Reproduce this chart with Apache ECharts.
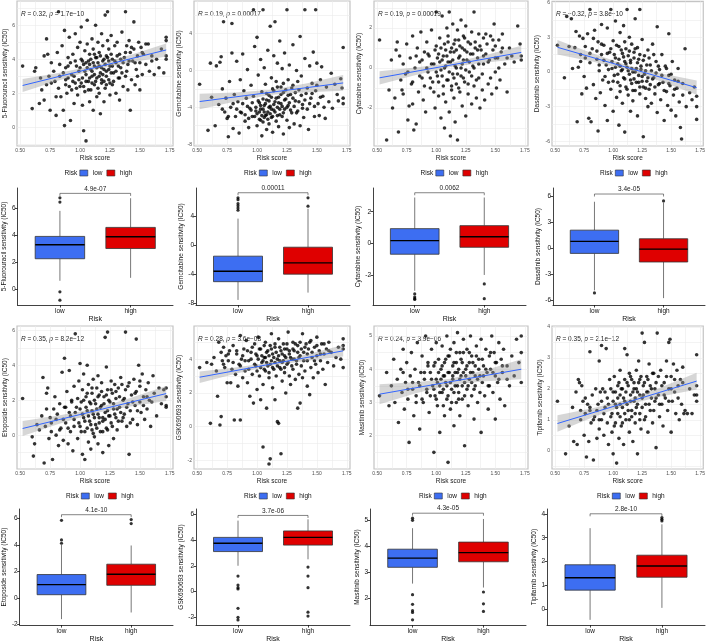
<!DOCTYPE html>
<html>
<head>
<meta charset="utf-8">
<script src="https://cdn.jsdelivr.net/npm/echarts@6/dist/echarts.min.js"></script>
<style>html,body{margin:0;padding:0;background:#fff}#main{width:708px;height:644px}</style>
</head>
<body>
<div id="main"></div>
<script>
var FONT = 'Liberation Sans, Arial, sans-serif';

// ---- data ----
var groups = ['low', 'high'];
var drugs = ['5-Fluorouracil', 'Gemcitabine', 'Cytarabine', 'Dasatinib', 'Etoposide', 'GSK690693', 'Masitinib', 'Tipifarnib'];
var corrR = ['0.32', '0.19', '0.19', '\u22120.32', '0.35', '0.28', '0.24', '0.35'];
var corrP = ['1.7e\u221210', '0.00017', '0.00019', '3.8e\u221210', '8.2e\u221212', '3.6e\u221208', '3.9e\u221206', '2.1e\u221212'];
var boxP = ['4.9e-07', '0.00011', '0.0062', '3.4e-05', '4.1e-10', '3.7e-06', '4.3e-05', '2.8e-10'];

var riskTicks = [0.5, 0.75, 1, 1.25, 1.5, 1.75];
var riskMinor = [0.625, 0.875, 1.125, 1.375, 1.625];

var scatterYMin = [-1.1, -8.2, -3.9, -6.4, -1.94, -2.5, 1.0, -0.59];
var scatterYMax = [7.43, 7.55, 3.35, 6.1, 6.25, 5.96, 5.3, 4.03];
var scatterYTicks = [[0,2,4,6],[-8,-4,0,4],[-2,0,2],[-6,-3,0,3,6],[0,2,4,6],[-2,0,2,4],[2,3,4,5],[0,1,2,3,4]];
var scatterYMinor = [[-1,1,3,5,7],[-6,-2,2,6],[-3,-1,1,3],[-4.5,-1.5,1.5,4.5],[-1,1,3,5],[-1,1,3,5],[1.5,2.5,3.5,4.5],[-0.5,0.5,1.5,2.5,3.5]];

// regression line ends (x = 0.52 and 1.72) and confidence band
var fitX = [0.52, 1.72];
var fitY = [[2.46,4.55],[-3.37,-1.35],[-0.49,0.78],[2.13,-1.36],[0.38,2.38],[2.93,4.49],[3.25,4.0],[0.88,2.25]];
var bandX = [0.52, 0.82, 1.12, 1.42, 1.72];
var bandLow = [
  [2.08,2.76,3.39,3.81,4.17],[-4.22,-3.36,-2.63,-2.35,-2.20],[-0.82,-0.36,0.045,0.27,0.45],[1.51,0.90,0.185,-0.845,-1.98],
  [-0.05,0.64,1.25,1.64,1.95],[2.59,3.13,3.61,3.91,4.15],[2.95,3.27,3.535,3.64,3.70],[0.61,1.07,1.485,1.76,1.98]];
var bandHigh = [
  [2.84,3.20,3.63,4.25,4.93],[-2.52,-2.39,-2.09,-1.38,-0.50],[-0.16,0.02,0.245,0.65,1.11],[2.75,1.62,0.585,-0.135,-0.74],
  [0.81,1.12,1.51,2.12,2.81],[3.27,3.51,3.81,4.29,4.83],[3.55,3.61,3.715,3.98,4.30],[1.15,1.37,1.645,2.06,2.52]];

var fluorouracilPts = [[0.52,3.6],[0.60,1.1],[0.62,3.3],[0.63,3.5],[0.66,1.4],[0.67,2.9],[0.68,2.2],[0.70,4.2],[0.70,1.6],[0.72,5.2],[0.73,4.3],[0.74,3.0],[0.75,1.0],[0.76,2.6],[0.78,3.3],[0.80,1.8],[0.80,0.7],[0.81,4.4],[0.82,6.8],[0.82,2.3],[0.83,3.7],[0.84,1.8],[0.85,4.8],[0.86,1.0],[0.87,0.1],[0.87,5.7],[0.88,2.5],[0.88,3.5],[0.89,2.0],[0.90,4.1],[0.90,2.9],[0.91,5.3],[0.92,0.4],[0.92,3.8],[0.93,2.2],[0.94,4.3],[0.95,1.4],[0.95,3.0],[0.96,5.5],[0.96,2.6],[0.97,3.6],[0.98,4.7],[0.98,1.9],[0.99,3.3],[1.00,5.0],[1.00,2.4],[1.01,4.0],[1.01,5.9],[1.02,2.9],[1.02,1.3],[1.03,3.7],[1.03,-0.2],[1.04,4.5],[1.04,2.1],[1.05,3.1],[1.05,-0.8],[1.06,6.3],[1.06,4.9],[1.07,2.7],[1.07,3.9],[1.08,1.5],[1.08,4.3],[1.09,3.4],[1.09,2.2],[1.10,5.2],[1.10,3.0],[1.11,1.0],[1.11,4.6],[1.12,3.6],[1.12,2.5],[1.13,6.0],[1.13,4.1],[1.14,2.9],[1.14,1.8],[1.15,3.8],[1.15,5.0],[1.16,2.0],[1.16,4.4],[1.17,3.2],[1.17,0.8],[1.18,5.5],[1.18,2.6],[1.19,3.9],[1.19,4.8],[1.20,1.5],[1.20,3.4],[1.21,6.6],[1.21,2.3],[1.22,4.2],[1.22,3.0],[1.23,6.8],[1.23,5.1],[1.24,2.8],[1.24,4.6],[1.25,3.6],[1.25,1.9],[1.26,5.4],[1.27,4.0],[1.27,2.5],[1.28,3.2],[1.29,4.8],[1.30,2.0],[1.30,3.8],[1.31,5.0],[1.32,2.9],[1.33,4.3],[1.33,1.6],[1.34,3.5],[1.35,5.6],[1.36,2.4],[1.37,4.1],[1.38,6.8],[1.38,3.0],[1.39,4.8],[1.40,2.2],[1.40,3.7],[1.41,5.1],[1.42,1.0],[1.42,4.4],[1.43,2.8],[1.44,3.9],[1.45,6.2],[1.45,4.6],[1.46,2.5],[1.47,3.4],[1.48,4.2],[1.49,5.0],[1.50,2.2],[1.50,3.8],[1.51,4.7],[1.52,3.1],[1.53,4.3],[1.55,3.7],[1.57,4.9],[1.58,3.3],[1.60,4.2],[1.62,3.1],[1.64,4.0],[1.66,3.5],[1.68,4.6],[1.70,3.2],[1.72,5.3],[1.72,5.1],[1.72,4.2],[1.72,4.0],
  [0.86,3.2],[0.88,2.8],[0.90,3.6],[0.91,2.4],[0.93,3.1],[0.94,2.7],[0.96,3.9],[0.97,2.3],[0.99,2.8],[1.00,3.5],[1.01,2.6],[1.02,3.9],[1.03,2.4],[1.04,3.3],[1.05,3.8],[1.05,2.7],[1.06,3.5],[1.07,2.2],[1.08,3.7],[1.08,2.9],[1.09,4.0],[1.10,3.3],[1.10,2.6],[1.11,3.8],[1.12,3.1],[1.12,4.3],[1.13,2.7],[1.14,3.5],[1.14,4.1],[1.15,2.3],[1.16,3.6],[1.16,3.0],[1.17,4.2],[1.18,2.8],[1.18,3.5],[1.19,3.1],[1.20,4.0],[1.20,2.7],[1.21,3.7],[1.22,3.3],[1.22,2.5],[1.23,4.1],[1.24,3.4],[1.24,3.9],[1.25,2.6],[1.26,3.2],[1.26,4.3],[1.27,3.6],[1.28,2.7],[1.29,3.9],[1.30,3.3],[1.31,4.2],[1.32,3.6],[1.33,2.9],[1.34,4.0],[1.35,3.2],[1.36,3.8],[1.38,4.4],[1.39,3.3],[1.41,3.9],[1.43,4.7],[1.46,3.8],[1.48,3.0],[1.52,4.4],[1.55,4.9],[1.60,3.9],[0.79,2.7],[0.83,3.0],[0.76,3.8],[0.72,2.5]];

var gemcitabinePts = [[0.52,-1.5],[0.59,-6.5],[0.61,0.8],[0.62,-2.9],[0.65,-6.0],[0.66,0.5],[0.68,-3.7],[0.69,0.9],[0.70,1.5],[0.71,-2.0],[0.72,5.3],[0.73,-4.5],[0.74,-3.0],[0.75,-5.2],[0.76,-7.2],[0.77,-1.2],[0.78,-4.0],[0.79,5.1],[0.79,1.9],[0.80,-6.3],[0.81,-2.6],[0.82,-5.0],[0.83,1.0],[0.84,-3.4],[0.85,-6.8],[0.86,-1.0],[0.87,-4.6],[0.88,1.8],[0.89,-2.2],[0.90,-5.5],[0.91,-3.0],[0.92,0.1],[0.93,-6.2],[0.94,-4.1],[0.95,-1.6],[0.96,-5.0],[0.97,6.6],[0.97,-2.8],[0.98,2.6],[0.99,-4.4],[1.00,3.6],[1.00,-6.0],[1.01,-0.5],[1.02,-3.5],[1.02,-5.3],[1.03,1.2],[1.03,-4.2],[1.04,-2.3],[1.04,-7.1],[1.05,6.6],[1.05,-5.6],[1.06,-3.8],[1.06,0.3],[1.07,-4.9],[1.07,-1.5],[1.08,-6.4],[1.08,-3.2],[1.09,2.2],[1.09,-4.5],[1.10,-2.7],[1.10,-5.8],[1.11,4.8],[1.11,-3.9],[1.12,-0.8],[1.12,-5.1],[1.13,-2.0],[1.13,-6.7],[1.14,-4.3],[1.14,1.6],[1.15,-3.4],[1.15,5.3],[1.16,-5.5],[1.16,-1.2],[1.17,-4.0],[1.17,0.8],[1.18,-6.1],[1.18,-2.9],[1.19,-4.8],[1.19,3.2],[1.20,-1.8],[1.20,-3.6],[1.21,-5.0],[1.21,0.2],[1.22,-2.4],[1.22,-6.9],[1.23,-4.2],[1.23,1.9],[1.24,-3.1],[1.25,6.6],[1.25,-5.4],[1.26,-1.0],[1.26,-3.8],[1.27,-6.2],[1.27,0.6],[1.28,-2.6],[1.29,-4.6],[1.30,2.8],[1.30,-1.6],[1.31,-5.8],[1.32,-3.3],[1.33,0.0],[1.34,-4.4],[1.35,-2.1],[1.36,3.7],[1.36,-6.0],[1.37,-0.6],[1.38,-3.7],[1.39,-5.1],[1.40,6.6],[1.40,1.3],[1.41,-2.5],[1.42,-4.2],[1.43,-6.4],[1.44,0.5],[1.45,-3.0],[1.46,-1.4],[1.47,2.0],[1.48,-5.0],[1.49,6.6],[1.49,-2.2],[1.50,0.8],[1.51,-3.6],[1.52,-4.9],[1.53,-1.0],[1.54,0.4],[1.55,-2.8],[1.57,-5.2],[1.58,-1.8],[1.60,-3.4],[1.62,-0.3],[1.63,-4.1],[1.65,-1.5],[1.67,-2.6],[1.68,-3.3],[1.70,-0.9],[1.71,-1.9],[1.72,2.5],[1.72,-3.0],[1.72,-3.6],
  [0.86,-4.5],[0.88,-3.6],[0.90,-4.8],[0.92,-3.9],[0.93,-5.2],[0.95,-4.3],[0.96,-3.5],[0.98,-5.0],[0.99,-4.0],[1.00,-4.7],[1.01,-3.3],[1.02,-4.5],[1.03,-5.4],[1.03,-3.8],[1.04,-4.9],[1.05,-4.2],[1.05,-3.1],[1.06,-5.1],[1.06,-4.5],[1.07,-3.6],[1.08,-4.8],[1.08,-2.5],[1.09,-5.3],[1.10,-4.0],[1.10,-3.3],[1.11,-4.7],[1.12,-2.9],[1.12,-4.2],[1.13,-5.0],[1.14,-3.7],[1.14,-2.2],[1.15,-4.5],[1.16,-3.0],[1.17,-4.9],[1.17,-1.8],[1.18,-3.5],[1.19,-4.2],[1.20,-2.6],[1.21,-3.9],[1.22,-4.6],[1.22,-1.4],[1.23,-3.2],[1.24,-2.1],[1.25,-4.0],[1.26,-2.7],[1.27,-3.5],[1.28,-4.3],[1.29,-1.9],[1.30,-3.0],[1.31,-3.9],[1.32,-2.4],[1.33,-4.6],[1.34,-1.2],[1.35,-3.4],[1.37,-2.7],[1.38,-4.1],[1.40,-3.2],[1.42,-1.9],[1.44,-3.6],[1.46,-2.5],[1.48,-3.9],[1.50,-1.6],[1.53,-2.9],[1.56,-4.0],[0.80,-3.6],[0.83,-4.2],[0.76,-5.0],[0.71,-4.2]];

var cytarabinePts = [[0.52,1.4],[0.58,-3.6],[0.60,-1.1],[0.62,0.4],[0.63,-2.0],[0.65,-1.5],[0.66,0.9],[0.67,1.3],[0.68,-3.2],[0.69,0.6],[0.70,-0.6],[0.71,-1.1],[0.72,0.2],[0.74,-0.3],[0.75,1.2],[0.76,-2.6],[0.77,-1.9],[0.78,0.5],[0.79,-0.8],[0.80,1.6],[0.80,-1.8],[0.81,-3.1],[0.82,0.0],[0.83,-2.8],[0.84,1.0],[0.85,-1.2],[0.86,0.3],[0.87,1.8],[0.88,-0.5],[0.89,-1.6],[0.90,0.8],[0.91,-2.2],[0.92,1.3],[0.93,-0.2],[0.94,0.6],[0.95,-1.0],[0.96,1.9],[0.97,-0.7],[0.98,0.2],[0.99,-2.0],[1.00,2.8],[1.00,1.1],[1.01,-0.4],[1.02,0.7],[1.02,-1.4],[1.03,1.5],[1.04,-0.1],[1.04,-2.5],[1.05,2.6],[1.05,0.4],[1.06,-0.9],[1.07,1.2],[1.07,-3.0],[1.08,0.1],[1.08,-1.7],[1.09,2.0],[1.09,0.6],[1.10,-0.6],[1.10,1.6],[1.11,-2.2],[1.11,2.8],[1.12,0.3],[1.12,-3.4],[1.13,-1.1],[1.13,1.0],[1.14,2.2],[1.14,-0.3],[1.15,0.8],[1.15,-1.5],[1.16,1.4],[1.16,-2.7],[1.17,0.0],[1.17,-0.8],[1.18,1.9],[1.18,-3.6],[1.19,0.5],[1.20,-1.2],[1.20,1.1],[1.21,-0.4],[1.21,2.4],[1.22,0.2],[1.22,-1.9],[1.23,1.6],[1.24,-0.7],[1.24,0.9],[1.25,-2.4],[1.25,2.1],[1.26,0.4],[1.27,-1.3],[1.27,1.3],[1.28,-0.2],[1.29,0.7],[1.30,-1.8],[1.30,1.8],[1.31,0.1],[1.32,2.8],[1.32,-0.9],[1.33,1.0],[1.34,-1.5],[1.35,0.5],[1.36,1.7],[1.36,-0.5],[1.37,-2.0],[1.38,0.9],[1.39,-1.1],[1.40,1.5],[1.40,0.2],[1.41,-1.6],[1.42,0.7],[1.43,1.2],[1.44,-0.8],[1.45,0.4],[1.46,1.6],[1.47,-1.3],[1.48,0.9],[1.49,2.2],[1.50,-0.2],[1.50,1.1],[1.51,-1.0],[1.52,0.5],[1.53,1.4],[1.54,-0.6],[1.55,0.8],[1.56,1.7],[1.58,0.2],[1.60,-1.2],[1.62,1.0],[1.64,0.6],[1.66,0.3],[1.69,2.1],[1.71,1.2],[1.72,0.6],[1.72,0.4],
  [0.86,-0.4],[0.88,0.4],[0.90,-0.9],[0.92,0.0],[0.93,0.7],[0.95,-0.5],[0.96,0.2],[0.98,-1.2],[0.99,0.9],[1.00,-0.2],[1.01,0.5],[1.02,-0.7],[1.03,0.3],[1.04,1.0],[1.05,-0.4],[1.06,0.6],[1.06,-1.3],[1.07,0.0],[1.08,0.9],[1.09,-0.6],[1.10,0.3],[1.10,1.3],[1.11,-0.2],[1.12,0.8],[1.13,-0.9],[1.14,0.4],[1.15,1.2],[1.15,-0.5],[1.16,0.1],[1.17,0.9],[1.18,-0.3],[1.19,1.4],[1.19,-1.0],[1.20,0.6],[1.21,0.0],[1.22,1.0],[1.23,-0.5],[1.23,0.4],[1.24,1.5],[1.25,-0.1],[1.26,0.8],[1.27,-0.8],[1.28,0.3],[1.29,1.2],[1.30,-0.4],[1.31,0.7],[1.32,0.0],[1.33,1.3],[1.34,-0.6],[1.35,0.9],[1.36,0.2],[1.37,1.1],[1.39,-0.3],[1.40,0.6],[1.42,1.7],[1.44,0.3],[1.46,-0.5],[1.48,1.4],[1.50,0.5],[1.53,0.0],[1.56,1.0],[1.60,0.5],[0.80,-0.7],[0.83,0.6],[0.76,-0.2],[0.72,-1.3]];

var dasatinibPts = [[0.52,2.3],[0.58,-0.5],[0.60,4.8],[0.62,2.2],[0.64,4.6],[0.65,0.3],[0.67,2.1],[0.68,3.5],[0.69,-4.3],[0.70,0.4],[0.71,3.1],[0.72,1.5],[0.73,-1.9],[0.74,2.9],[0.75,-0.4],[0.76,1.2],[0.77,-1.4],[0.78,3.3],[0.79,-4.0],[0.80,5.4],[0.80,0.8],[0.81,-4.3],[0.82,2.0],[0.83,-1.1],[0.84,3.6],[0.85,-2.3],[0.86,1.1],[0.87,-5.1],[0.87,2.6],[0.88,0.1],[0.89,-1.8],[0.90,4.1],[0.90,1.5],[0.91,-0.7],[0.92,2.3],[0.93,-2.9],[0.94,0.6],[0.95,3.8],[0.95,-4.2],[0.96,-0.9],[0.97,1.7],[0.98,5.4],[0.98,-1.5],[0.99,0.3],[1.00,2.7],[1.00,-3.4],[1.01,-0.3],[1.02,1.2],[1.02,4.4],[1.03,-2.2],[1.04,0.7],[1.04,-0.9],[1.05,2.2],[1.05,-4.6],[1.06,-1.7],[1.06,3.4],[1.07,0.1],[1.08,1.6],[1.08,-2.7],[1.09,4.0],[1.09,-0.5],[1.10,0.9],[1.10,-5.2],[1.11,2.0],[1.11,-1.3],[1.12,5.4],[1.12,0.4],[1.13,-2.0],[1.13,1.4],[1.14,-0.2],[1.14,3.0],[1.15,-3.4],[1.15,0.8],[1.16,-1.0],[1.16,2.4],[1.17,0.0],[1.17,-2.5],[1.18,1.7],[1.18,-0.6],[1.19,4.6],[1.19,-1.6],[1.20,0.3],[1.21,2.1],[1.21,-3.8],[1.22,-0.9],[1.22,1.1],[1.23,5.4],[1.23,-1.9],[1.24,0.5],[1.25,-0.4],[1.25,2.8],[1.26,-5.6],[1.26,-1.3],[1.27,1.4],[1.28,-2.3],[1.28,0.1],[1.29,-0.8],[1.30,1.9],[1.30,-3.0],[1.31,-1.5],[1.32,0.6],[1.33,-2.7],[1.34,2.4],[1.35,-0.5],[1.36,-1.9],[1.37,0.9],[1.38,-3.5],[1.38,3.9],[1.39,-1.1],[1.40,0.2],[1.41,-2.4],[1.42,1.5],[1.43,-0.9],[1.44,-4.2],[1.45,0.5],[1.46,-1.7],[1.47,-2.9],[1.48,3.3],[1.48,-0.3],[1.49,-1.2],[1.50,-3.3],[1.51,0.9],[1.52,-2.0],[1.53,-0.7],[1.54,-3.8],[1.55,-1.4],[1.56,0.3],[1.57,-2.6],[1.58,-4.8],[1.59,-5.8],[1.60,-1.0],[1.62,2.0],[1.63,-3.0],[1.66,-1.8],[1.68,-2.4],[1.70,-1.3],[1.72,-3.0],[1.72,-4.1],[1.72,-2.1],
  [0.86,1.8],[0.88,0.6],[0.90,2.4],[0.92,1.0],[0.93,-0.4],[0.95,1.6],[0.96,0.2],[0.98,2.0],[0.99,0.9],[1.00,-0.8],[1.01,1.5],[1.02,0.4],[1.03,2.3],[1.04,-0.2],[1.05,1.1],[1.06,0.5],[1.06,-1.2],[1.07,1.9],[1.08,0.2],[1.09,1.3],[1.10,-0.6],[1.10,2.6],[1.11,0.7],[1.12,-1.5],[1.13,0.1],[1.14,1.8],[1.15,-0.7],[1.15,1.0],[1.16,0.3],[1.17,-1.6],[1.18,1.2],[1.19,0.0],[1.19,2.0],[1.20,-0.9],[1.21,0.8],[1.22,-0.3],[1.23,1.5],[1.23,-1.3],[1.24,0.2],[1.25,-0.8],[1.26,1.0],[1.27,-0.2],[1.28,-1.4],[1.29,0.6],[1.30,-0.5],[1.31,1.2],[1.32,-1.1],[1.33,0.1],[1.34,-0.6],[1.35,1.5],[1.36,-1.3],[1.37,-0.1],[1.39,0.5],[1.40,-1.0],[1.42,-0.3],[1.44,-1.6],[1.46,0.3],[1.48,-1.0],[1.50,-0.2],[1.53,-1.5],[1.56,-0.8],[1.60,-2.0],[0.80,1.6],[0.83,2.9],[0.76,2.2],[0.72,0.9]];

var etoposidePts = [[0.52,2.1],[0.60,-0.1],[0.61,-1.2],[0.62,-0.5],[0.64,0.6],[0.66,0.3],[0.68,1.1],[0.69,3.3],[0.70,-1.6],[0.71,0.5],[0.72,2.4],[0.73,2.7],[0.74,-0.2],[0.75,1.0],[0.76,0.2],[0.77,-1.4],[0.78,1.5],[0.79,2.2],[0.80,0.0],[0.81,1.2],[0.82,-0.6],[0.83,1.8],[0.84,0.4],[0.85,3.6],[0.86,-0.3],[0.87,4.4],[0.87,1.6],[0.88,0.7],[0.89,2.5],[0.90,-0.5],[0.91,3.7],[0.91,1.3],[0.92,0.2],[0.93,2.0],[0.94,-0.9],[0.95,2.8],[0.95,0.9],[0.96,5.8],[0.97,1.6],[0.98,-0.2],[0.99,3.1],[1.00,4.1],[1.00,0.5],[1.01,1.9],[1.02,-1.1],[1.02,2.6],[1.03,3.5],[1.03,1.0],[1.04,-1.4],[1.04,0.2],[1.05,2.2],[1.06,4.0],[1.06,1.4],[1.07,-0.4],[1.07,2.9],[1.08,0.8],[1.09,1.8],[1.09,-0.8],[1.10,2.4],[1.10,0.3],[1.11,3.2],[1.11,1.2],[1.12,-0.1],[1.12,2.0],[1.13,0.6],[1.14,2.7],[1.14,1.5],[1.15,-0.5],[1.15,3.4],[1.16,1.0],[1.16,2.3],[1.17,0.2],[1.18,1.7],[1.18,3.0],[1.19,0.8],[1.19,-1.0],[1.20,2.2],[1.21,5.6],[1.21,1.3],[1.22,3.9],[1.22,0.4],[1.23,5.9],[1.23,2.6],[1.24,1.1],[1.24,-0.6],[1.25,1.9],[1.26,3.1],[1.26,0.7],[1.27,2.4],[1.28,1.5],[1.28,-0.2],[1.29,2.9],[1.30,1.0],[1.30,2.1],[1.31,0.3],[1.32,2.7],[1.33,1.6],[1.34,3.3],[1.35,0.8],[1.36,2.0],[1.37,1.2],[1.38,5.9],[1.38,2.6],[1.39,0.5],[1.40,1.8],[1.41,-1.1],[1.41,3.0],[1.42,1.4],[1.43,2.3],[1.44,0.9],[1.45,3.2],[1.46,1.7],[1.47,5.5],[1.47,2.5],[1.48,0.6],[1.49,4.0],[1.50,1.9],[1.50,2.8],[1.51,1.3],[1.52,3.5],[1.53,2.2],[1.54,0.9],[1.55,2.6],[1.56,1.5],[1.57,3.0],[1.58,2.0],[1.59,0.5],[1.61,3.4],[1.62,2.4],[1.64,1.1],[1.66,2.7],[1.68,1.8],[1.70,2.6],[1.72,2.2],[1.72,1.7],[1.72,1.6],[1.72,2.7],
  [0.86,0.9],[0.88,1.6],[0.90,0.4],[0.92,1.1],[0.93,1.9],[0.95,0.5],[0.96,1.3],[0.98,2.1],[0.99,0.7],[1.00,1.5],[1.01,0.2],[1.02,1.2],[1.03,2.0],[1.04,0.8],[1.05,1.6],[1.06,0.4],[1.06,2.4],[1.07,1.1],[1.08,1.9],[1.09,0.6],[1.10,1.4],[1.10,2.7],[1.11,0.1],[1.12,1.0],[1.13,1.8],[1.14,0.4],[1.15,1.2],[1.15,2.2],[1.16,0.7],[1.17,1.6],[1.18,2.5],[1.19,1.0],[1.19,0.2],[1.20,1.8],[1.21,0.9],[1.22,2.3],[1.23,1.4],[1.23,0.3],[1.24,2.0],[1.25,1.1],[1.26,2.6],[1.27,0.5],[1.28,1.8],[1.29,1.2],[1.30,2.5],[1.31,1.5],[1.32,0.8],[1.33,2.2],[1.34,1.3],[1.35,2.9],[1.36,1.0],[1.37,2.1],[1.39,1.6],[1.40,2.8],[1.42,0.7],[1.44,1.9],[1.46,2.4],[1.48,1.4],[1.50,3.1],[1.53,1.7],[1.56,2.2],[1.60,1.9],[0.80,0.9],[0.83,0.3],[0.76,0.7],[0.72,1.5]];

var gskPts = [[0.52,3.5],[0.58,3.8],[0.61,0.2],[0.62,3.7],[0.64,4.1],[0.66,3.3],[0.67,1.8],[0.68,5.0],[0.69,0.1],[0.70,0.6],[0.70,4.4],[0.71,3.9],[0.72,4.7],[0.73,3.5],[0.74,4.2],[0.75,2.6],[0.76,3.9],[0.77,4.5],[0.78,2.6],[0.79,3.4],[0.80,4.8],[0.81,0.4],[0.82,3.1],[0.83,4.3],[0.84,2.4],[0.85,3.7],[0.86,0.4],[0.86,5.4],[0.87,4.0],[0.88,2.9],[0.89,4.6],[0.90,3.3],[0.91,5.1],[0.92,2.6],[0.93,3.9],[0.94,1.8],[0.95,4.4],[0.96,3.1],[0.97,1.4],[0.98,4.9],[0.99,3.6],[1.00,2.2],[1.00,4.2],[1.01,5.3],[1.02,3.0],[1.03,1.6],[1.03,4.6],[1.04,3.8],[1.05,-1.2],[1.05,2.5],[1.06,4.1],[1.07,5.0],[1.07,3.3],[1.08,1.1],[1.08,4.4],[1.09,3.6],[1.10,-2.2],[1.10,2.9],[1.11,4.8],[1.11,-1.9],[1.12,3.9],[1.12,5.5],[1.13,2.3],[1.13,4.3],[1.14,3.4],[1.15,1.6],[1.15,4.7],[1.16,3.0],[1.17,0.3],[1.17,4.0],[1.18,0.2],[1.18,5.2],[1.19,3.5],[1.20,-1.6],[1.20,4.5],[1.21,2.7],[1.21,3.8],[1.22,4.9],[1.23,3.2],[1.23,4.2],[1.24,2.0],[1.25,4.6],[1.25,3.7],[1.26,5.6],[1.27,3.0],[1.27,4.3],[1.28,2.5],[1.29,4.0],[1.30,3.4],[1.30,5.0],[1.31,4.5],[1.32,2.8],[1.33,3.9],[1.34,1.1],[1.34,4.8],[1.35,3.1],[1.36,1.4],[1.36,4.2],[1.37,3.6],[1.38,5.5],[1.38,2.9],[1.39,4.4],[1.40,3.3],[1.41,4.9],[1.42,2.4],[1.42,3.9],[1.43,4.6],[1.44,1.9],[1.45,3.5],[1.45,5.1],[1.46,4.1],[1.47,2.9],[1.48,4.7],[1.49,3.7],[1.50,5.3],[1.50,4.2],[1.51,3.2],[1.52,4.5],[1.53,3.9],[1.54,4.9],[1.55,3.4],[1.56,4.3],[1.57,2.5],[1.58,4.6],[1.59,3.8],[1.60,5.0],[1.62,4.4],[1.64,3.6],[1.66,4.1],[1.68,4.7],[1.70,4.0],[1.72,5.2],[1.72,4.8],[1.72,3.5],[1.72,4.6],
  [0.86,3.6],[0.88,4.2],[0.90,3.9],[0.92,4.5],[0.93,3.4],[0.95,4.0],[0.96,4.7],[0.98,3.7],[0.99,4.3],[1.00,3.3],[1.01,4.0],[1.02,4.6],[1.03,3.5],[1.04,4.2],[1.05,3.9],[1.06,4.8],[1.06,3.4],[1.07,4.1],[1.08,3.8],[1.09,4.5],[1.10,3.2],[1.10,4.2],[1.11,3.7],[1.12,4.6],[1.13,3.5],[1.14,4.1],[1.15,3.8],[1.15,4.9],[1.16,4.4],[1.17,3.6],[1.18,4.2],[1.19,3.9],[1.19,4.7],[1.20,3.4],[1.21,4.3],[1.22,3.9],[1.23,4.6],[1.23,3.5],[1.24,4.1],[1.25,4.9],[1.26,3.8],[1.27,4.5],[1.28,4.1],[1.29,3.6],[1.30,4.6],[1.31,4.0],[1.32,4.9],[1.33,3.7],[1.34,4.4],[1.35,4.1],[1.36,5.0],[1.37,4.6],[1.39,3.9],[1.40,4.7],[1.42,4.3],[1.44,5.0],[1.46,4.4],[1.48,3.9],[1.50,4.8],[1.53,4.3],[1.56,4.9],[1.60,4.5],[0.80,3.8],[0.83,4.5],[0.76,4.3],[0.72,3.7]];

var masitinibPts = [[0.52,3.2],[0.58,3.9],[0.60,2.9],[0.62,3.5],[0.64,4.3],[0.65,3.0],[0.67,3.7],[0.68,2.4],[0.70,4.0],[0.71,3.3],[0.72,4.6],[0.73,2.8],[0.74,3.6],[0.75,4.2],[0.76,3.1],[0.77,1.8],[0.78,3.8],[0.79,4.5],[0.80,3.4],[0.81,2.6],[0.82,4.0],[0.83,3.2],[0.84,4.8],[0.85,3.6],[0.86,2.2],[0.87,3.9],[0.88,4.4],[0.89,3.0],[0.90,3.7],[0.91,5.0],[0.92,3.3],[0.93,4.2],[0.94,2.7],[0.95,3.9],[0.96,4.6],[0.97,3.5],[0.98,1.5],[0.98,4.1],[0.99,3.2],[1.00,4.8],[1.00,3.7],[1.01,2.9],[1.02,4.3],[1.03,3.5],[1.03,2.1],[1.04,4.0],[1.05,3.3],[1.05,4.7],[1.06,3.8],[1.07,2.6],[1.07,4.2],[1.08,3.6],[1.09,5.0],[1.09,3.1],[1.10,4.4],[1.10,1.2],[1.11,3.9],[1.12,2.8],[1.12,4.6],[1.13,3.4],[1.14,4.1],[1.14,3.7],[1.15,2.3],[1.15,4.8],[1.16,3.5],[1.17,4.2],[1.17,3.0],[1.18,3.9],[1.18,5.1],[1.19,3.3],[1.20,4.5],[1.20,2.6],[1.21,3.8],[1.22,4.2],[1.22,3.1],[1.23,4.9],[1.24,3.6],[1.24,1.7],[1.25,4.0],[1.26,3.4],[1.26,4.6],[1.27,2.9],[1.28,4.2],[1.28,3.7],[1.29,5.0],[1.30,3.2],[1.30,4.4],[1.31,3.9],[1.32,2.5],[1.33,4.1],[1.33,3.5],[1.34,4.7],[1.35,3.0],[1.36,4.3],[1.37,3.8],[1.38,2.1],[1.38,4.9],[1.39,3.6],[1.40,4.1],[1.41,3.2],[1.42,4.6],[1.43,3.9],[1.44,2.8],[1.45,4.4],[1.45,3.5],[1.46,4.0],[1.47,5.0],[1.48,3.3],[1.49,4.5],[1.50,3.8],[1.50,2.5],[1.51,4.2],[1.52,3.6],[1.53,4.8],[1.54,3.1],[1.55,4.3],[1.56,3.9],[1.57,4.6],[1.58,2.9],[1.60,4.1],[1.62,3.5],[1.64,4.4],[1.66,3.8],[1.68,4.9],[1.70,4.2],[1.72,3.6],[1.72,4.5],[1.72,5.0],
  [0.86,3.5],[0.88,3.1],[0.90,3.9],[0.92,3.4],[0.93,4.1],[0.95,3.2],[0.96,3.7],[0.98,3.4],[0.99,4.2],[1.00,3.1],[1.01,3.6],[1.02,3.9],[1.03,3.3],[1.04,3.7],[1.05,4.1],[1.06,3.4],[1.06,2.9],[1.07,3.8],[1.08,4.3],[1.09,3.5],[1.10,3.9],[1.10,3.2],[1.11,4.4],[1.12,3.6],[1.13,3.0],[1.14,3.8],[1.15,4.2],[1.15,3.3],[1.16,3.9],[1.17,4.5],[1.18,3.5],[1.19,4.0],[1.19,3.1],[1.20,3.7],[1.21,4.3],[1.22,3.5],[1.23,3.9],[1.23,4.5],[1.24,3.2],[1.25,3.8],[1.26,4.1],[1.27,3.5],[1.28,4.5],[1.29,3.9],[1.30,3.6],[1.31,4.2],[1.32,3.4],[1.33,3.8],[1.34,4.4],[1.35,3.7],[1.36,4.0],[1.37,3.3],[1.39,4.3],[1.40,3.8],[1.42,4.0],[1.44,3.5],[1.46,4.5],[1.48,3.9],[1.50,4.2],[1.53,3.7],[1.56,4.1],[1.60,3.7],[0.80,3.6],[0.83,3.0],[0.76,3.4],[0.72,3.9]];

var tipifarnibPts = [[0.52,1.6],[0.59,-0.1],[0.62,0.8],[0.65,1.4],[0.66,0.3],[0.68,1.9],[0.69,0.2],[0.70,2.3],[0.71,2.2],[0.72,1.0],[0.73,2.1],[0.74,1.6],[0.75,0.5],[0.76,1.2],[0.77,-0.2],[0.78,1.5],[0.79,0.3],[0.80,3.2],[0.80,1.3],[0.81,0.9],[0.82,1.8],[0.83,-0.3],[0.84,1.1],[0.85,2.0],[0.86,0.4],[0.87,1.5],[0.88,2.9],[0.88,0.7],[0.89,1.9],[0.90,3.4],[0.90,1.0],[0.91,2.0],[0.92,0.5],[0.93,1.4],[0.94,3.3],[0.95,1.7],[0.96,0.2],[0.97,2.3],[0.98,1.1],[0.99,0.6],[1.00,1.9],[1.00,-0.1],[1.01,2.4],[1.02,0.9],[1.02,1.5],[1.03,-0.4],[1.04,2.1],[1.04,1.2],[1.05,0.4],[1.06,1.8],[1.06,2.6],[1.07,0.8],[1.08,1.4],[1.08,2.0],[1.09,0.2],[1.10,3.3],[1.10,1.6],[1.11,1.0],[1.12,2.2],[1.12,3.1],[1.13,1.3],[1.14,0.6],[1.14,2.5],[1.15,1.8],[1.16,1.1],[1.16,2.3],[1.17,0.3],[1.18,1.6],[1.18,2.0],[1.19,0.9],[1.20,2.6],[1.20,1.4],[1.21,-0.1],[1.21,1.9],[1.22,2.9],[1.23,1.2],[1.23,2.3],[1.24,0.7],[1.25,3.8],[1.25,1.7],[1.26,2.1],[1.27,1.0],[1.27,3.5],[1.28,1.5],[1.29,2.4],[1.30,0.6],[1.30,1.9],[1.31,2.8],[1.32,1.3],[1.33,2.0],[1.34,0.9],[1.35,2.5],[1.36,1.6],[1.37,0.1],[1.37,2.2],[1.38,3.8],[1.39,1.8],[1.40,1.1],[1.41,2.6],[1.42,1.5],[1.43,0.8],[1.44,2.2],[1.45,1.7],[1.46,2.9],[1.47,1.3],[1.48,3.5],[1.48,2.0],[1.49,3.6],[1.50,0.6],[1.50,2.4],[1.51,1.6],[1.52,2.8],[1.53,1.9],[1.54,1.2],[1.55,2.6],[1.56,2.1],[1.57,1.0],[1.58,2.3],[1.59,1.5],[1.60,2.7],[1.61,1.2],[1.62,1.3],[1.64,1.2],[1.66,2.0],[1.68,1.2],[1.70,1.8],[1.72,3.1],[1.72,2.1],[1.72,1.6],[1.72,1.8],
  [0.86,1.3],[0.88,1.0],[0.90,1.6],[0.92,1.2],[0.93,1.9],[0.95,0.9],[0.96,1.5],[0.98,2.0],[0.99,1.2],[1.00,1.6],[1.01,0.8],[1.02,1.9],[1.03,1.4],[1.04,1.7],[1.05,2.2],[1.06,1.1],[1.06,1.5],[1.07,2.0],[1.08,0.9],[1.09,1.7],[1.10,2.3],[1.10,1.2],[1.11,1.9],[1.12,1.5],[1.13,2.1],[1.14,1.0],[1.15,1.6],[1.15,2.4],[1.16,1.3],[1.17,1.9],[1.18,2.2],[1.19,1.2],[1.19,1.7],[1.20,2.0],[1.21,1.5],[1.22,2.2],[1.23,1.0],[1.23,1.8],[1.24,2.4],[1.25,1.4],[1.26,1.8],[1.27,2.2],[1.28,1.1],[1.29,1.9],[1.30,2.3],[1.31,1.5],[1.32,2.1],[1.33,1.7],[1.34,2.5],[1.35,1.3],[1.36,2.0],[1.37,1.7],[1.39,2.4],[1.40,1.5],[1.42,2.1],[1.44,1.8],[1.46,2.4],[1.48,1.6],[1.50,2.0],[1.53,2.3],[1.56,1.7],[1.60,2.2],[0.80,1.4],[0.83,1.0],[0.76,1.7],[0.72,1.3]];

var scatterPts = [fluorouracilPts, gemcitabinePts, cytarabinePts, dasatinibPts, etoposidePts, gskPts, masitinibPts, tipifarnibPts];

// boxplots: [lower whisker, Q1, median, Q3, upper whisker]
var boxYMin = [-1.2, -8.2, -3.9, -6.6, -2.05, -2.6, 0.99, -0.65];
var boxYMax = [7.5, 7.85, 3.5, 7.0, 6.7, 6.4, 5.41, 4.2];
var boxYTicks = [[0,2,4,6],[-8,-4,0,4],[-2,0,2],[-6,-3,0,3,6],[-2,0,2,4,6],[-2,0,2,4,6],[2,3,4,5],[0,1,2,3,4]];
var bracketY = [7.1, 7.2, 3.2, 6.3, 6.27, 5.9, 5.25, 4.0];
var lowStats = [[0.6,2.24,3.28,3.9,5.8],[-7.5,-5.0,-3.56,-1.5,3.65],[-3.0,-0.69,0.17,0.93,2.9],[-4.9,-0.6,0.8,2.1,5.4],
  [-1.6,0.24,1.0,1.76,4.0],[2.0,3.1,3.75,4.2,5.5],[2.57,3.19,3.54,3.88,4.68],[-0.43,0.81,1.33,1.87,3.4]];
var highStats = [[0.82,3.0,3.88,4.57,6.74],[-6.5,-3.97,-2.42,-0.27,5.0],[-2.0,-0.25,0.42,1.12,2.9],[-5.8,-1.6,-0.1,1.1,5.3],
  [-1.1,0.95,1.78,2.54,3.95],[2.5,3.6,4.2,4.7,5.6],[2.42,3.4,3.75,4.15,5.03],[0.07,1.35,1.82,2.27,3.56]];
var lowOutliers = [[6.77,6.45,-0.22,-0.84],[6.5,6.25,5.7,5.4,5.1,4.8],[-3.2,-3.4,-3.5,-3.55],[-5.2],[5.85,4.37,4.12],
  [1.2,0.5,0.3,0.2,-1.3,-2.0,-2.2],[5.06,4.98,2.15,1.78,1.54,1.47,1.19],[]];
var highOutliers = [[],[6.5,5.35],[-2.57,-3.5],[5.5],[5.9,5.6],[1.9,1.2,0.3,-1.6,-1.9],[2.25,1.8,1.51],[3.84,3.77,3.7]];
var boxColors = ['#3D6EF2', '#DF0000'];

// ---- layout (px) ----
var sCols = [[17,173],[194,350],[374,528],[552,707]];
var sRows = [[1,146],[326,469]];
var bCols = [[[14,173],[196,350],[373,526],[553,705]], [[17,173],[196,350],[370,526],[547,705]]];
var bRows = [[188,305],[509,629]];
var legY = [173, 496];

// scatter panels use grid/axis 0..7, box panels 8..15
var sGrids = [], bGrids = [], sX = [], bX = [], sY = [], bY = [];
var series = [], legends = [], graphics = [];

function labelChars(ticks) {
  return Math.max.apply(null, ticks.map(function (v) { return String(v).length; }));
}

function bandRenderer(k) {
  return function (params, api) {
    var pts = [];
    for (var i = 0; i < bandX.length; i++) pts.push(api.coord([bandX[i], bandHigh[k][i]]));
    for (var j = bandX.length - 1; j >= 0; j--) pts.push(api.coord([bandX[j], bandLow[k][j]]));
    return { type: 'polygon', shape: { points: pts }, style: { fill: 'rgba(153,153,153,0.4)' } };
  };
}

function renderBox(params, api) {
  var x = api.value(0);
  var w = api.size([0.7, 0])[0];
  var cHi = api.coord([x, api.value(5)]), cQ3 = api.coord([x, api.value(4)]);
  var cMed = api.coord([x, api.value(3)]), cQ1 = api.coord([x, api.value(2)]), cLo = api.coord([x, api.value(1)]);
  var ws = { stroke: '#555', lineWidth: 0.8 };
  return { type: 'group', children: [
    { type: 'line', shape: { x1: cHi[0], y1: cHi[1], x2: cQ3[0], y2: cQ3[1] }, style: ws },
    { type: 'line', shape: { x1: cQ1[0], y1: cQ1[1], x2: cLo[0], y2: cLo[1] }, style: ws },
    { type: 'rect', shape: { x: cQ3[0] - w / 2, y: cQ3[1], width: w, height: cQ1[1] - cQ3[1] },
      style: { fill: api.visual('color'), stroke: '#333', lineWidth: 0.8 } },
    { type: 'line', shape: { x1: cMed[0] - w / 2, y1: cMed[1], x2: cMed[0] + w / 2, y2: cMed[1] },
      style: { stroke: '#000', lineWidth: 1.4 } }
  ] };
}

function bracketRenderer(k) {
  return function (params, api) {
    var y = api.value(1);
    var a = api.coord([1, y]), b = api.coord([2, y]);
    return { type: 'group', children: [
      { type: 'polyline', shape: { points: [[a[0], a[1] + 2.5], a, b, [b[0], b[1] + 2.5]] },
        style: { stroke: '#333', lineWidth: 0.6, fill: null } },
      { type: 'text', x: (a[0] + b[0]) / 2, y: a[1] - 1,
        style: { text: boxP[k], fontSize: 6.5, fontFamily: FONT, fill: '#222', align: 'center', verticalAlign: 'bottom' } }
    ] };
  };
}

for (var k = 0; k < 8; k++) {
  var r = k < 4 ? 0 : 1, c = k % 4;

  // scatter panel
  var L = sCols[c][0], R = sCols[c][1], T = sRows[r][0], B = sRows[r][1];
  sGrids.push({ left: L, top: T, width: R - L, height: B - T, show: true, borderColor: '#c4c4c4', borderWidth: 1.2, backgroundColor: '#fff' });
  sX.push({ gridIndex: k, type: 'value', min: 0.473, max: 1.777,
    name: 'Risk score', nameLocation: 'middle', nameGap: 9,
    nameTextStyle: { fontSize: 6.5, color: '#1a1a1a', fontFamily: FONT },
    axisLine: { show: false, onZero: false },
    axisTick: { show: false, customValues: riskTicks.concat(riskMinor) },
    axisLabel: { customValues: riskTicks, formatter: function (v) { return v.toFixed(2); }, fontSize: 5, color: '#4d4d4d', margin: 2, fontFamily: FONT },
    splitLine: { show: true, lineStyle: { color: '#ebebeb', width: 0.6 } } });
  sY.push({ gridIndex: k, type: 'value', min: scatterYMin[k], max: scatterYMax[k],
    name: drugs[k] + ' sensitivity (IC50)', nameLocation: 'middle', nameGap: labelChars(scatterYTicks[k]) * 3 + 5.5,
    nameTextStyle: { fontSize: 6.5, color: '#1a1a1a', fontFamily: FONT },
    axisLine: { show: false, onZero: false },
    axisTick: { show: false, customValues: scatterYTicks[k].concat(scatterYMinor[k]) },
    axisLabel: { customValues: scatterYTicks[k], fontSize: 5, color: '#4d4d4d', margin: 2, fontFamily: FONT },
    splitLine: { show: true, lineStyle: { color: '#ebebeb', width: 0.6 } } });
  series.push({ type: 'scatter', xAxisIndex: k, yAxisIndex: k, data: scatterPts[k], symbolSize: 3.6,
    itemStyle: { color: '#000' }, z: 2, silent: true });
  series.push({ type: 'custom', xAxisIndex: k, yAxisIndex: k, data: [[bandX[0], bandLow[k][0]]],
    renderItem: bandRenderer(k), z: 3, silent: true });
  series.push({ type: 'line', xAxisIndex: k, yAxisIndex: k,
    data: [[fitX[0], fitY[k][0]], [fitX[1], fitY[k][1]]], symbol: 'none',
    lineStyle: { color: '#3366FF', width: 1 }, z: 4, silent: true });
  graphics.push({ type: 'text', x: L + 4, y: T + 13, silent: true,
    style: { text: '{i|R} = ' + corrR[k] + ', {i|p} = ' + corrP[k], fontSize: 6.5, fontFamily: FONT, fill: '#222', verticalAlign: 'middle',
      rich: { i: { fontStyle: 'italic', fontSize: 6.5, fontFamily: FONT, fill: '#222' } } } });

  // box panel
  var g = 8 + k;
  var Lb = bCols[r][c][0], Rb = bCols[r][c][1], Tb = bRows[r][0], Bb = bRows[r][1];
  bGrids.push({ left: Lb, top: Tb, width: Rb - Lb, height: Bb - Tb });
  bX.push({ gridIndex: g, type: 'value', min: 0.4, max: 2.6,
    name: 'Risk', nameLocation: 'middle', nameGap: 10,
    nameTextStyle: { fontSize: 7, color: '#111', fontFamily: FONT },
    axisLine: { show: true, onZero: false, lineStyle: { color: '#111', width: 0.8 } },
    axisTick: { show: true, customValues: [1, 2], length: 2.5, lineStyle: { color: '#111', width: 0.8 } },
    axisLabel: { customValues: [1, 2], formatter: function (v) { return groups[Math.round(v) - 1]; }, fontSize: 6.5, color: '#111', margin: 3, fontFamily: FONT },
    splitLine: { show: false } });
  bY.push({ gridIndex: g, type: 'value', min: boxYMin[k], max: boxYMax[k],
    name: drugs[k] + ' sensitivity (IC50)', nameLocation: 'middle', nameGap: labelChars(boxYTicks[k]) * 3.6 + 4,
    nameTextStyle: { fontSize: 6.5, color: '#111', fontFamily: FONT },
    axisLine: { show: true, onZero: false, lineStyle: { color: '#111', width: 0.8 } },
    axisTick: { show: true, customValues: boxYTicks[k], length: 2.5, lineStyle: { color: '#111', width: 0.8 } },
    axisLabel: { customValues: boxYTicks[k], fontSize: 6.5, color: '#111', margin: 2, fontFamily: FONT },
    splitLine: { show: false } });
  [lowStats[k], highStats[k]].forEach(function (st, gi) {
    series.push({ name: groups[gi], type: 'custom', xAxisIndex: g, yAxisIndex: g,
      itemStyle: { color: boxColors[gi] }, data: [[gi + 1].concat(st)],
      encode: { x: 0, y: [1, 2, 3, 4, 5] }, renderItem: renderBox, z: 3, silent: true });
  });
  [lowOutliers[k], highOutliers[k]].forEach(function (outs, gi) {
    series.push({ type: 'scatter', xAxisIndex: g, yAxisIndex: g,
      data: outs.map(function (v) { return [gi + 1, v]; }), symbolSize: 3.2,
      itemStyle: { color: '#000' }, z: 4, silent: true });
  });
  series.push({ type: 'custom', xAxisIndex: g, yAxisIndex: g, data: [[1, bracketY[k]]],
    renderItem: bracketRenderer(k), z: 5, silent: true });

  var cx = (Lb + Rb) / 2;
  legends.push({ left: cx - 14, top: legY[r] - 3.5, padding: 0, itemWidth: 8, itemHeight: 6, itemGap: 4,
    icon: 'rect', selectedMode: false,
    data: [
      { name: 'low', itemStyle: { color: boxColors[0], borderColor: '#333', borderWidth: 0.6 } },
      { name: 'high', itemStyle: { color: boxColors[1], borderColor: '#333', borderWidth: 0.6 } }
    ],
    textStyle: { fontSize: 6.5, color: '#111', fontFamily: FONT } });
  graphics.push({ type: 'text', x: cx - 29, y: legY[r], silent: true,
    style: { text: 'Risk', fontSize: 6.5, fontFamily: FONT, fill: '#111', verticalAlign: 'middle' } });
}

var myChart = echarts.init(document.getElementById('main'));
myChart.setOption({
  animation: false,
  backgroundColor: '#fff',
  textStyle: { fontFamily: FONT },
  grid: sGrids.concat(bGrids),
  xAxis: sX.concat(bX),
  yAxis: sY.concat(bY),
  legend: legends,
  graphic: { elements: graphics },
  series: series
});
</script>
</body>
</html>
